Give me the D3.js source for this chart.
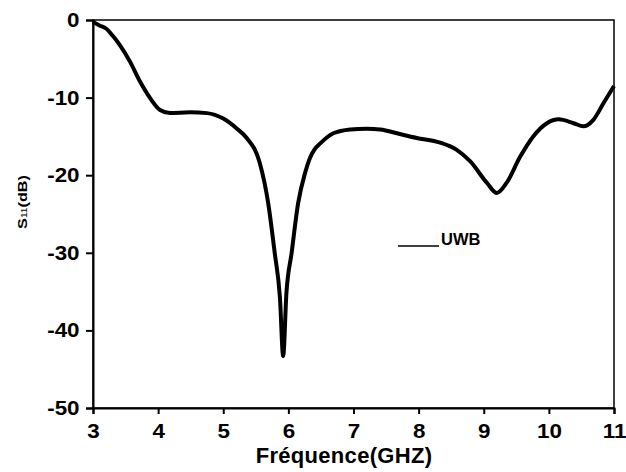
<!DOCTYPE html>
<html><head><meta charset="utf-8">
<script src="https://cdn.jsdelivr.net/npm/d3@7"></script>
<style>body{margin:0;background:#fff}svg{display:block}text{font-family:Arial,"Liberation Sans",sans-serif;font-weight:bold}</style>
</head><body><div id="chart"></div>
<script>
const freq = [3.0, 3.1, 3.2, 3.3, 3.41, 3.57, 3.72, 3.88, 4.03, 4.18, 4.49, 4.75, 5.0, 5.21, 5.36, 5.56, 5.69, 5.79, 5.87, 5.92, 5.97, 6.05, 6.15, 6.26, 6.33, 6.4, 6.49, 6.69, 6.95, 7.2, 7.41, 7.71, 7.97, 8.33, 8.58, 8.79, 9.05, 9.2, 9.35, 9.56, 9.76, 9.97, 10.15, 10.38, 10.53, 10.68, 10.84, 11.0];
const s11 = [-0.25, -0.7, -1.1, -2.0, -3.2, -5.4, -7.9, -10.1, -11.6, -12.0, -11.9, -12.0, -12.7, -14.0, -15.2, -18.4, -23.6, -30.0, -35.7, -43.3, -35.2, -30.0, -23.6, -19.6, -17.8, -16.7, -15.9, -14.6, -14.1, -14.0, -14.1, -14.7, -15.2, -15.8, -16.7, -18.2, -21.0, -22.3, -21.0, -17.6, -15.0, -13.3, -12.8, -13.3, -13.7, -12.9, -10.7, -8.5];
const xTicks = [3, 4, 5, 6, 7, 8, 9, 10, 11];
const yTicks = [0, -10, -20, -30, -40, -50];
const seriesName = "UWB";

const W = 626, H = 472;
const m = {l: 93, t: 20, r: 12, b: 64};
const svg = d3.select("#chart").append("svg").attr("width", W).attr("height", H);
const x = d3.scaleLinear().domain([3, 11]).range([m.l, W - m.r]);
const y = d3.scaleLinear().domain([-50, 0]).range([H - m.b, m.t]);

// frame
svg.append("rect").attr("x", m.l).attr("y", m.t).attr("width", W - m.r - m.l).attr("height", H - m.b - m.t)
  .attr("fill", "none").attr("stroke", "#000").attr("stroke-width", 1.5);

const fmt = d => String(d);

// x axis
const gx = svg.append("g").attr("transform", `translate(0,${H - m.b})`);
gx.call(d3.axisBottom(x).tickValues(d3.range(3, 11.01, 0.5)).tickSize(4).tickFormat(""));
gx.call(d3.axisBottom(x).tickValues(xTicks).tickSize(6).tickPadding(10).tickFormat(fmt));
gx.selectAll("path.domain").attr("stroke-width", 2);
gx.selectAll("line").attr("stroke-width", 2);
gx.selectAll("text").attr("font-size", 20).attr("font-weight", "bold").attr("fill", "#000")
  .attr("transform", "scale(1.12,1)");

// y axis
const gy = svg.append("g").attr("transform", `translate(${m.l},0)`);
gy.call(d3.axisLeft(y).tickValues(d3.range(-50, 0.01, 5)).tickSize(4).tickFormat(""));
gy.call(d3.axisLeft(y).tickValues(yTicks).tickSize(7).tickPadding(5).tickFormat(fmt));
gy.selectAll("path.domain").attr("stroke-width", 2);
gy.selectAll("line").attr("stroke-width", 2);
gy.selectAll("text").attr("font-size", 20).attr("font-weight", "bold").attr("fill", "#000")
  .attr("transform", "scale(1.12,1)");

// curve
const data = freq.map((f, i) => [f, s11[i]]);
svg.append("path").datum(data)
  .attr("fill", "none").attr("stroke", "#000").attr("stroke-width", 4).attr("stroke-linejoin", "round")
  .attr("d", d3.line().x(d => x(d[0])).y(d => y(d[1])).curve(d3.curveMonotoneX));

// legend
svg.append("line").attr("x1", 398).attr("x2", 439).attr("y1", 246).attr("y2", 246).attr("stroke", "#000").attr("stroke-width", 1.5);
svg.append("text").attr("x", 441).attr("y", 245).attr("font-size", 16.5).text(seriesName);

// axis labels
svg.append("text").attr("x", 344).attr("y", 463).attr("text-anchor", "middle").attr("font-size", 22)
  .attr("letter-spacing", 0.3).text("Fréquence(GHZ)");
const yl = svg.append("text").attr("transform", "translate(27,202) rotate(-90) scale(1.2,1)").attr("text-anchor", "middle").attr("font-size", 13.5);
yl.append("tspan").text("S");
yl.append("tspan").attr("font-size", 8.5).attr("font-weight", "normal").text("11");
yl.append("tspan").text("(dB)");
</script></body></html>
